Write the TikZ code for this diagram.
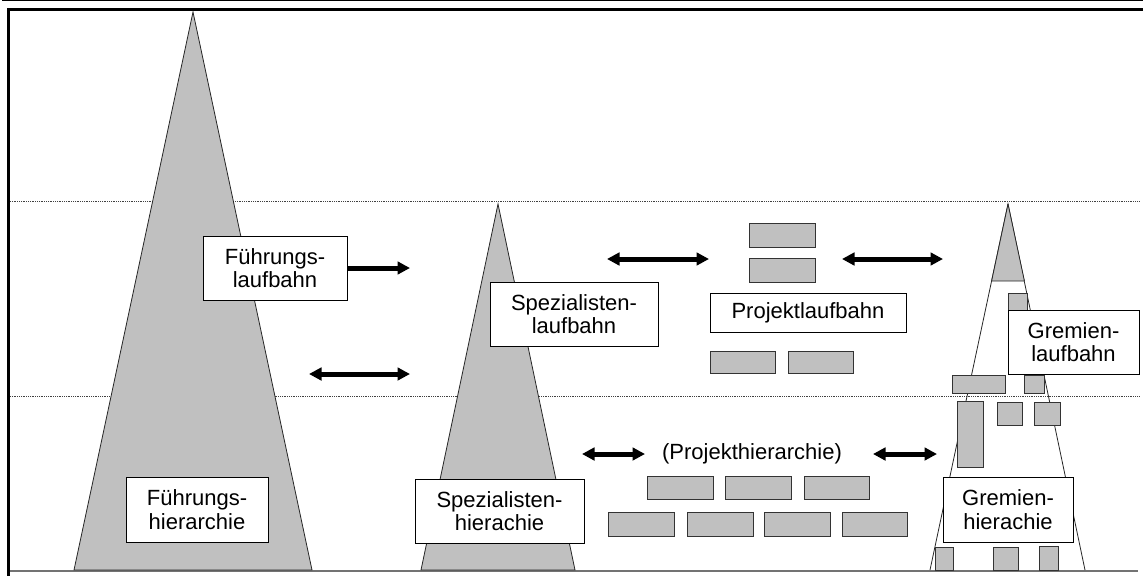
\documentclass[tikz,border=0pt]{standalone}
\usepackage{fontspec}
\setmainfont{Liberation Sans}
\usetikzlibrary{arrows.meta}
\definecolor{blockgray}{HTML}{C0C0C0}
\tikzset{
  lbl/.style={draw=black, fill=white, line width=0.9pt, align=center, inner sep=0pt,
    font=\fontsize{22}{23.5}\selectfont},
  plain/.style={inner sep=0pt, font=\fontsize{22}{23.5}\selectfont},
  gbox/.style={draw=black!80, fill=blockgray, line width=0.9pt},
  pyramid/.style={draw=black!85, fill=blockgray, line width=0.8pt},
  outline/.style={draw=black!85, line width=0.8pt},
  level/.style={draw=black!75, line width=0.8pt, densely dotted},
  onearrow/.style={line width=5pt, -{Triangle[length=12.5pt,width=12.5pt]}},
  twoarrow/.style={line width=5pt, {Triangle[length=12.5pt,width=12.5pt]}-{Triangle[length=12.5pt,width=12.5pt]}},
}
\begin{document}
\begin{tikzpicture}[x=1pt,y=-1pt]
\useasboundingbox (0,0) rectangle (1143,576);

% frame
\draw[line width=1pt] (2,0.6) -- (1143,0.6);
\draw[line width=2.4pt] (7.5,9.3) -- (1143,9.3);
\draw[line width=2.6pt] (8.7,8.1) -- (8.7,576);
\draw[line width=2pt, draw=black!55] (10,570.5) -- (1138,570.5);

% level lines
\draw[level] (10,201) -- (1140,201);
\draw[level] (10,396) -- (1140,396);

% management pyramid
\draw[pyramid] (193,12) -- (312,570) -- (74,570) -- cycle;
% specialist pyramid
\draw[pyramid] (498,204) -- (575,570) -- (421,570) -- cycle;
% committee pyramid: outline with shaded tip
\draw[outline] (1008,204) -- (1085,570);
\draw[outline] (1008,204) -- (930,570);
\draw[pyramid] (1008,204) -- (1024.4,281) -- (991.6,281) -- cycle;

% project blocks
\draw[gbox] (749,223) rectangle (815,247);
\draw[gbox] (749,258) rectangle (815,282);
\draw[gbox] (710,351) rectangle (775,373);
\draw[gbox] (788,351) rectangle (853,373);
\draw[gbox] (647,476) rectangle (713,499);
\draw[gbox] (725,476) rectangle (791,499);
\draw[gbox] (804,476) rectangle (869,499);
\draw[gbox] (608,512) rectangle (674,536);
\draw[gbox] (687,512) rectangle (753,536);
\draw[gbox] (764,512) rectangle (830,536);
\draw[gbox] (842,512) rectangle (907,536);

% committee blocks
\draw[gbox] (1008,293) rectangle (1027,312);
\draw[gbox] (952,375) rectangle (1005,393);
\draw[gbox] (1024,375) rectangle (1044,393);
\draw[gbox] (957,401) rectangle (983,467);
\draw[gbox] (997,402) rectangle (1022,425);
\draw[gbox] (1034,402) rectangle (1060,425);
\draw[gbox] (935,547) rectangle (953,570);
\draw[gbox] (993,547) rectangle (1018,570);
\draw[gbox] (1039,546) rectangle (1058,570);

% labels
\node[lbl, minimum width=144pt, minimum height=64pt] (fl) at (275,268) {Führungs-\\laufbahn};
\node[lbl, minimum width=142pt, minimum height=65pt] (fh) at (197,509.5) {Führungs-\\hierarchie};
\node[lbl, minimum width=168pt, minimum height=64pt] (sl) at (574,314) {Spezialisten-\\laufbahn};
\node[lbl, minimum width=169pt, minimum height=64pt] (sh) at (499.5,511) {Spezialisten-\\hierachie};
\node[lbl, minimum width=196pt, minimum height=39pt] (pl) at (808,312.5) {Projektlaufbahn};
\node[lbl, minimum width=131pt, minimum height=64pt] (gl) at (1073.5,342) {Gremien-\\laufbahn};
\node[lbl, minimum width=130pt, minimum height=65pt] (gh) at (1008,509.5) {Gremien-\\hierachie};
\node[plain] (ph) at (752,454) {(Projekthierarchie)};

% arrows between career paths
\coordinate (a1) at (410,268);
\coordinate (b1) at (309,374);
\coordinate (b2) at (410,374);
\coordinate (c1) at (607,259);
\coordinate (c2) at (709,259);
\coordinate (d1) at (842,259);
\coordinate (d2) at (943,259);
\coordinate (e1) at (582,454);
\coordinate (e2) at (645,454);
\coordinate (f1) at (873,454);
\coordinate (f2) at (937,454);

\draw[onearrow] (fl.east) -- (a1);
\draw[twoarrow] (b1) -- (b2);
\draw[twoarrow] (c1) -- (c2);
\draw[twoarrow] (d1) -- (d2);
\draw[twoarrow] (e1) -- (e2);
\draw[twoarrow] (f1) -- (f2);
\end{tikzpicture}
\end{document}
